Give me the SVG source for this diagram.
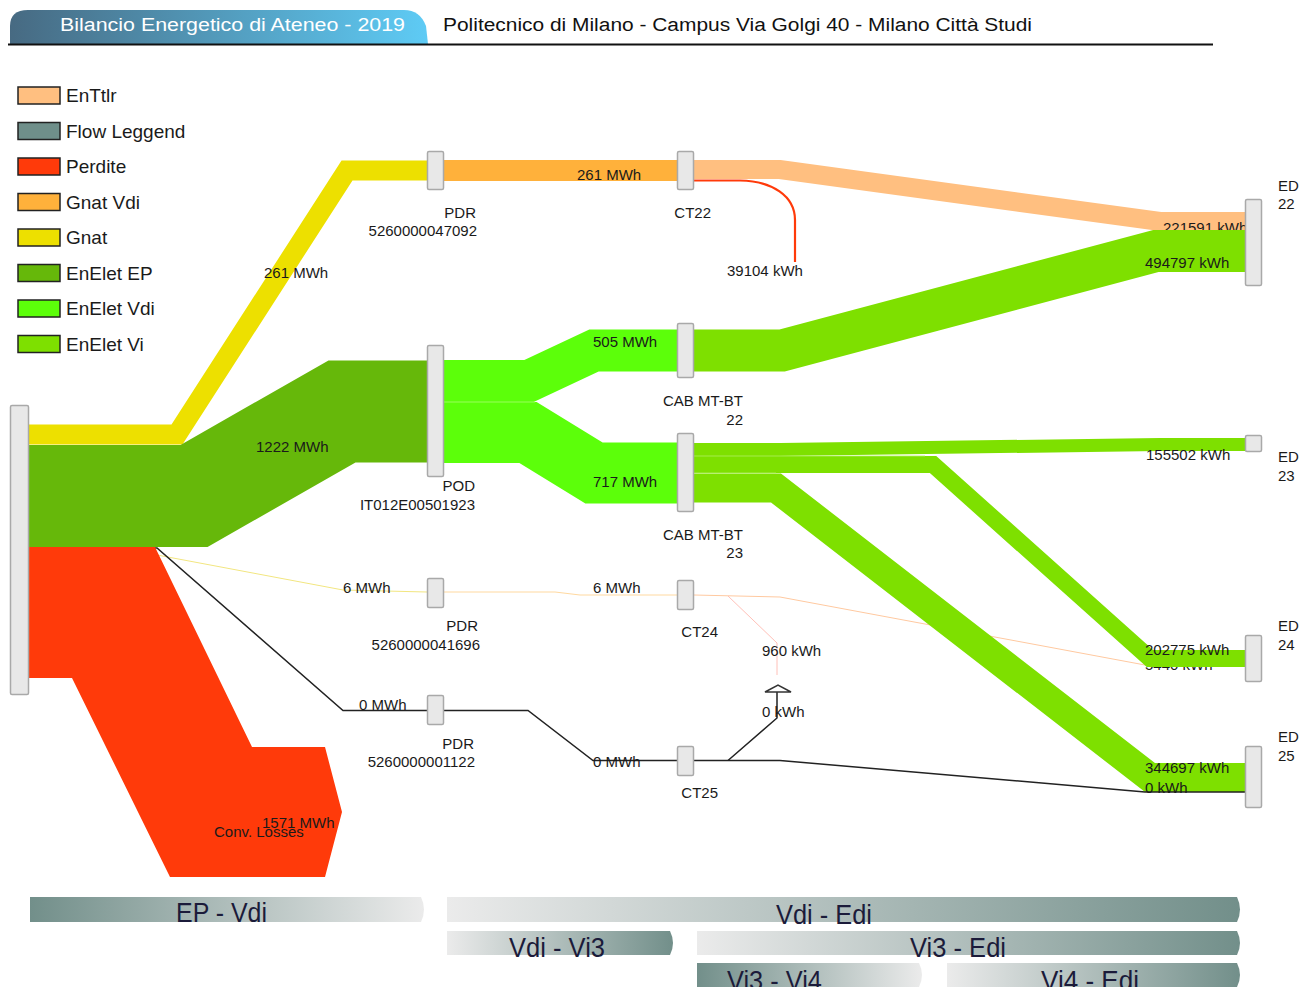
<svg xmlns="http://www.w3.org/2000/svg" width="1309" height="987" viewBox="0 0 1309 987">
<style>
.nd{fill:#e8e8e8;stroke:#a9a9a9;stroke-width:1.5}
.lb{font-family:"Liberation Sans",Arial,sans-serif;font-size:15px;fill:#1a1a1a}
.lg{font-family:"Liberation Sans",Arial,sans-serif;font-size:19px;fill:#1a1a1a}
.lgb{stroke:#222;stroke-width:1.5}
.bar{font-family:"Liberation Sans",Arial,sans-serif;font-size:27px;fill:#1b1b3a}
.fl{fill:none;stroke-linejoin:miter;stroke-miterlimit:20;stroke-linecap:butt}
.thin{fill:none;stroke-width:1}
</style>
<defs>
<linearGradient id="gTab" x1="0" y1="0" x2="1" y2="0">
<stop offset="0" stop-color="#476a82"/><stop offset="1" stop-color="#5ecbf5"/>
</linearGradient>
<linearGradient id="gL" x1="0" y1="0" x2="1" y2="0">
<stop offset="0" stop-color="#728f8a"/><stop offset="1" stop-color="#ebebeb"/>
</linearGradient>
<linearGradient id="gR" x1="0" y1="0" x2="1" y2="0">
<stop offset="0" stop-color="#ebebeb"/><stop offset="1" stop-color="#728f8a"/>
</linearGradient>
</defs>

<g id="header">
<path d="M10,44 L10,26 Q10,10 28,10 L404,10 Q420,10 426,26 L428,44 Z" fill="url(#gTab)"/>
<text x="60" y="31" font-family="'Liberation Sans',Arial,sans-serif" font-size="18" fill="#ffffff" textLength="345" lengthAdjust="spacingAndGlyphs">Bilancio Energetico di Ateneo - 2019</text>
<text x="443" y="31" font-family="'Liberation Sans',Arial,sans-serif" font-size="18" fill="#111" textLength="589" lengthAdjust="spacingAndGlyphs">Politecnico di Milano - Campus Via Golgi 40 - Milano Città Studi</text>
<path d="M8,44.5 H1213" stroke="#111" stroke-width="2"/>
</g>

<g id="legend">
<rect x="18" y="87" width="42" height="17" fill="#ffbf80" class="lgb"/><text x="66" y="102" class="lg">EnTtlr</text>
<rect x="18" y="122.5" width="42" height="17" fill="#6f8f8a" class="lgb"/><text x="66" y="137.5" class="lg">Flow Leggend</text>
<rect x="18" y="158" width="42" height="17" fill="#ff3a0a" class="lgb"/><text x="66" y="173" class="lg">Perdite</text>
<rect x="18" y="193.5" width="42" height="17" fill="#ffb13b" class="lgb"/><text x="66" y="208.5" class="lg">Gnat Vdi</text>
<rect x="18" y="229" width="42" height="17" fill="#ede000" class="lgb"/><text x="66" y="244" class="lg">Gnat</text>
<rect x="18" y="264.5" width="42" height="17" fill="#66b80a" class="lgb"/><text x="66" y="279.5" class="lg">EnElet EP</text>
<rect x="18" y="300" width="42" height="17" fill="#5cff0a" class="lgb"/><text x="66" y="315" class="lg">EnElet Vdi</text>
<rect x="18" y="335.5" width="42" height="17" fill="#7ee000" class="lgb"/><text x="66" y="350.5" class="lg">EnElet Vi</text>
</g>

<g id="connectors">
<!-- thin lines -->
<path class="thin" d="M29,548 L120,548 L343,590 L427,592" stroke="#f2e680"/>
<path class="thin" d="M444,592 L555,592 L580,595 L677,595" stroke="#ffd9a0"/>
<path class="thin" d="M694,595 L780,597 L1145,665 L1245,665" stroke="#ffc9a0"/>
<path class="thin" d="M728,596 L777,643 L777,675" stroke="#ffc0b8"/>
<!-- Gnat -->
<path class="fl" d="M29,434.5 L177,434.5 L347,170.5 L427,170.5" stroke="#ede000" stroke-width="20"/>
<text x="264" y="278" class="lb">261 MWh</text>
<!-- Gnat Vdi -->
<path class="fl" d="M444,170.5 L677,170.5" stroke="#ffb13b" stroke-width="21"/>
<text x="577" y="180" class="lb">261 MWh</text>
<!-- EnTtlr -->
<path class="fl" d="M694,169.5 L780,169.5 L1160,221.5 L1245,221.5" stroke="#ffbf80" stroke-width="19"/>
<text x="1163" y="233" class="lb">221591 kWh</text>
<!-- loss CT22 -->
<path fill="none" d="M694,180.5 L740,180.5 C772,181 795,196 795,220 L795,262" stroke="#ff3a0a" stroke-width="2.2"/>
<text x="727" y="276" class="lb">39104 kWh</text>
<!-- EnElet EP -->
<path class="fl" d="M29,496 L194,496 L342,411.5 L427,411.5" stroke="#66b80a" stroke-width="102"/>
<text x="256" y="452" class="lb">1222 MWh</text>
<!-- POD -> CAB22 / CAB23 -->
<path class="fl" d="M444,381 L529,381 L594,350.5 L677,350.5" stroke="#5cff0a" stroke-width="42"/>
<path class="fl" d="M444,432.5 L528,432.5 L594,473 L677,473" stroke="#5cff0a" stroke-width="61"/>
<path d="M444,402 L535,402" stroke="#a8ff70" stroke-width="0.8"/>
<text x="593" y="347" class="lb">505 MWh</text>
<text x="593" y="487" class="lb">717 MWh</text>
<!-- CAB22 -> ED22 -->
<path class="fl" d="M694,350.5 L782,350.5 L1156,251 L1245,251" stroke="#7ee000" stroke-width="42"/>
<text x="1145" y="268" class="lb">494797 kWh</text>
<!-- CAB23 -> ED23 -->
<path class="fl" d="M694,449.5 L780,449.5 L1160,444.5 L1245,444.5" stroke="#7ee000" stroke-width="13"/>
<text x="1146" y="460" class="lb">155502 kWh</text>
<!-- CAB23 -> ED24 -->
<text x="1145" y="670" class="lb">5440 kWh</text>
<path class="fl" d="M694,464.5 L933,464.5 L1150,658.5 L1245,658.5" stroke="#7ee000" stroke-width="17"/>
<text x="1145" y="655" class="lb">202775 kWh</text>
<!-- CAB23 -> ED25 -->
<path class="fl" d="M694,488 L776,488 L1150,777.5 L1245,777.5" stroke="#7ee000" stroke-width="29"/>
<path d="M694,456 L925,456 M694,473 L776,473" stroke="#b0f060" stroke-width="0.8"/>
<text x="1145" y="773" class="lb">344697 kWh</text>
<!-- black zero flows -->
<path fill="none" stroke="#222" stroke-width="1.5" d="M118,548 L157,548 L343,710.5 L427,710.5"/>
<path fill="none" stroke="#222" stroke-width="1.5" d="M444,710.5 L528,710.5 L593,760.5 L677,760.5"/>
<path fill="none" stroke="#222" stroke-width="1.5" d="M694,760.5 L780,760.5 L1145,792 L1245,792"/>
<path fill="none" stroke="#222" stroke-width="1.5" d="M728,760.5 L777,718 L777,692"/>
<text x="343" y="593" class="lb">6 MWh</text>
<text x="593" y="593" class="lb">6 MWh</text>
<text x="762" y="656" class="lb">960 kWh</text>
<text x="359" y="710" class="lb">0 MWh</text>
<text x="593" y="767" class="lb">0 MWh</text>
<text x="762" y="717" class="lb">0 kWh</text>
<text x="1145" y="793" class="lb">0 kWh</text>
<!-- Perdite -->
<path d="M29,547 L155,547 L252,747 L325,747 L342,812 L325,877 L170,877 L72,678 L29,678 Z" fill="#ff3a0a"/>
<text x="262" y="828" class="lb">1571 MWh</text>
<text x="214" y="837" class="lb">Conv. Losses</text>
</g>

<g id="node-source"><rect class="nd" x="10.5" y="405.5" width="18" height="289" rx="1.5"/></g>
<g id="node-pdr-47092"><rect class="nd" x="427.5" y="151.5" width="16" height="38" rx="1.5"/>
<text x="476" y="218" class="lb" text-anchor="end">PDR</text><text x="477" y="236" class="lb" text-anchor="end">5260000047092</text></g>
<g id="node-ct22"><rect class="nd" x="677.5" y="151.5" width="16" height="38" rx="1.5"/>
<text x="711" y="218" class="lb" text-anchor="end">CT22</text></g>
<g id="node-pod"><rect class="nd" x="427.5" y="345.5" width="16" height="131" rx="1.5"/>
<text x="475" y="491" class="lb" text-anchor="end">POD</text><text x="475" y="510" class="lb" text-anchor="end">IT012E00501923</text></g>
<g id="node-cab22"><rect class="nd" x="677.5" y="323.5" width="16" height="54" rx="1.5"/>
<text x="743" y="406" class="lb" text-anchor="end">CAB MT-BT</text><text x="743" y="425" class="lb" text-anchor="end">22</text></g>
<g id="node-cab23"><rect class="nd" x="677.5" y="433.5" width="16" height="78" rx="1.5"/>
<text x="743" y="540" class="lb" text-anchor="end">CAB MT-BT</text><text x="743" y="558" class="lb" text-anchor="end">23</text></g>
<g id="node-pdr-41696"><rect class="nd" x="427.5" y="578.5" width="16" height="29" rx="1.5"/>
<text x="478" y="631" class="lb" text-anchor="end">PDR</text><text x="480" y="650" class="lb" text-anchor="end">5260000041696</text></g>
<g id="node-ct24"><rect class="nd" x="677.5" y="580.5" width="16" height="29" rx="1.5"/>
<text x="718" y="637" class="lb" text-anchor="end">CT24</text></g>
<g id="node-pdr-01122"><rect class="nd" x="427.5" y="695.5" width="16" height="29" rx="1.5"/>
<text x="474" y="749" class="lb" text-anchor="end">PDR</text><text x="475" y="767" class="lb" text-anchor="end">5260000001122</text></g>
<g id="node-ct25"><rect class="nd" x="677.5" y="746.5" width="16" height="29" rx="1.5"/>
<text x="718" y="798" class="lb" text-anchor="end">CT25</text></g>
<g id="node-export"><path d="M765,692 L778,685 L791,692 Z" fill="#fff" stroke="#333" stroke-width="1.5"/></g>
<g id="node-ed22"><rect class="nd" x="1245.5" y="199.5" width="16" height="86" rx="1.5"/>
<text x="1278" y="191" class="lb">ED</text><text x="1278" y="209" class="lb">22</text></g>
<g id="node-ed23"><rect class="nd" x="1245.5" y="435.5" width="16" height="16" rx="1.5"/>
<text x="1278" y="462" class="lb">ED</text><text x="1278" y="481" class="lb">23</text></g>
<g id="node-ed24"><rect class="nd" x="1245.5" y="635.5" width="16" height="46" rx="1.5"/>
<text x="1278" y="631" class="lb">ED</text><text x="1278" y="650" class="lb">24</text></g>
<g id="node-ed25"><rect class="nd" x="1245.5" y="746.5" width="16" height="61" rx="1.5"/>
<text x="1278" y="742" class="lb">ED</text><text x="1278" y="761" class="lb">25</text></g>

<g id="phases">
<path d="M30,897 H421 Q427,909.5 421,922 H30 Z" fill="url(#gL)"/>
<text x="176" y="922" class="bar" textLength="91" lengthAdjust="spacingAndGlyphs">EP - Vdi</text>
<path d="M447,897 H1237 Q1243,909.5 1237,922 H447 Z" fill="url(#gR)"/>
<text x="776" y="924" class="bar" textLength="96" lengthAdjust="spacingAndGlyphs">Vdi - Edi</text>
<path d="M447,931 H670 Q676,943 670,955 H447 Z" fill="url(#gR)"/>
<text x="509" y="957" class="bar" textLength="96" lengthAdjust="spacingAndGlyphs">Vdi - Vi3</text>
<path d="M697,931 H1237 Q1243,943 1237,955 H697 Z" fill="url(#gR)"/>
<text x="910" y="957" class="bar" textLength="96" lengthAdjust="spacingAndGlyphs">Vi3 - Edi</text>
<path d="M697,963 H919 Q925,975 919,987 H697 Z" fill="url(#gL)"/>
<text x="727" y="990" class="bar" textLength="95" lengthAdjust="spacingAndGlyphs">Vi3 - Vi4</text>
<path d="M947,963 H1237 Q1243,975 1237,987 H947 Z" fill="url(#gR)"/>
<text x="1041" y="990" class="bar" textLength="98" lengthAdjust="spacingAndGlyphs">Vi4 - Edi</text>
</g>
</svg>
